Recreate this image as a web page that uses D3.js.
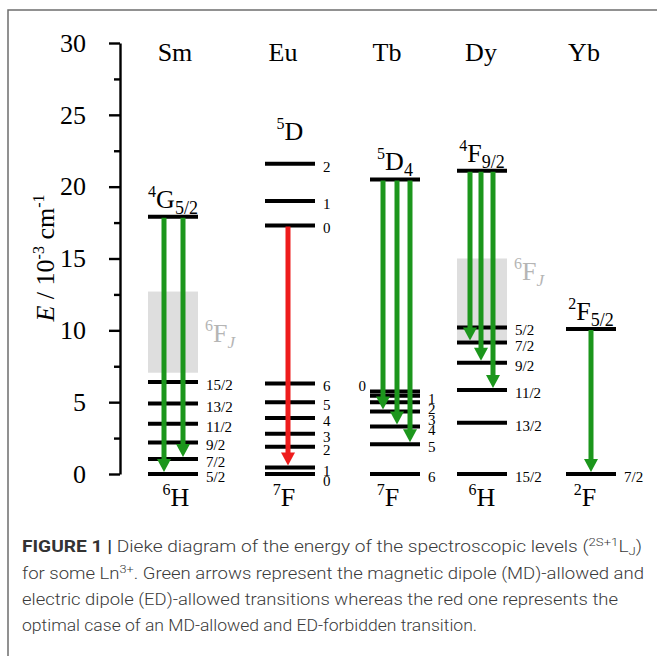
<!DOCTYPE html>
<html>
<head>
<meta charset="utf-8">
<script src="https://cdn.jsdelivr.net/npm/d3@7"></script>
<style>
  body { margin: 0; background: #fff; }
  svg { display: block; }
  .serif { font-family: "Liberation Serif", "Times New Roman", serif; fill: #000; }
  .caption { font-family: Roboto, "Liberation Sans", Arial, sans-serif; font-weight: 300; fill: #3a3a3a; }
</style>
</head>
<body>
<svg id="chart" width="657" height="656"></svg>
<script>
// ---- data (energies in 10^3 cm^-1) ----
const elements = ["Sm", "Eu", "Tb", "Dy", "Yb"];

const smLevels = [
  { J: "", E: 17.9 },
  { J: "15/2", E: 6.4 }, { J: "13/2", E: 4.9 }, { J: "11/2", E: 3.5 },
  { J: "9/2", E: 2.2 }, { J: "7/2", E: 1.05 }, { J: "5/2", E: 0 }
];
const euLevels = [
  { J: "2", E: 21.6 }, { J: "1", E: 19.0 }, { J: "0", E: 17.3 },
  { J: "6", E: 6.3 }, { J: "5", E: 5.0 }, { J: "4", E: 3.9 }, { J: "3", E: 2.8 },
  { J: "2", E: 1.9 }, { J: "1", E: 0.45 }, { J: "0", E: 0 }
];
const tbLevels = [
  { J: "", E: 20.5 },
  { J: "0", E: 5.75 }, { J: "1", E: 5.45 }, { J: "2", E: 5.0 }, { J: "3", E: 4.35 },
  { J: "4", E: 3.3 }, { J: "5", E: 2.07 }, { J: "6", E: 0 }
];
const dyLevels = [
  { J: "", E: 21.1 },
  { J: "5/2", E: 10.2 }, { J: "7/2", E: 9.15 }, { J: "9/2", E: 7.75 },
  { J: "11/2", E: 5.85 }, { J: "13/2", E: 3.57 }, { J: "15/2", E: 0 }
];
const ybLevels = [
  { J: "", E: 10.1 },
  { J: "7/2", E: 0 }
];

const upperTerms = [
  { el: "Sm", sup: "4", L: "G", sub: "5/2" },
  { el: "Eu", sup: "5", L: "D", sub: "" },
  { el: "Tb", sup: "5", L: "D", sub: "4" },
  { el: "Dy", sup: "4", L: "F", sub: "9/2" },
  { el: "Yb", sup: "2", L: "F", sub: "5/2" }
];
const groundTerms = [
  { el: "Sm", sup: "6", L: "H" }, { el: "Eu", sup: "7", L: "F" }, { el: "Tb", sup: "7", L: "F" },
  { el: "Dy", sup: "6", L: "H" }, { el: "Yb", sup: "2", L: "F" }
];

// 6F_J manifolds (grey bands)
const bands = [
  { el: "Sm", lo: 7.05, hi: 12.7 },
  { el: "Dy", lo: 9.3, hi: 15.0 }
];

// transitions: from -> to energies
const transitions = [
  { el: "Sm", from: 17.9, to: 0, kind: "allowed" },
  { el: "Sm", from: 17.9, to: 1.05, kind: "allowed" },
  { el: "Eu", from: 17.3, to: 0.45, kind: "forbidden" },
  { el: "Tb", from: 20.5, to: 4.35, kind: "allowed" },
  { el: "Tb", from: 20.5, to: 3.3, kind: "allowed" },
  { el: "Tb", from: 20.5, to: 2.07, kind: "allowed" },
  { el: "Dy", from: 21.1, to: 9.15, kind: "allowed" },
  { el: "Dy", from: 21.1, to: 7.75, kind: "allowed" },
  { el: "Dy", from: 21.1, to: 5.85, kind: "allowed" },
  { el: "Yb", from: 10.1, to: 0, kind: "allowed" }
];

const yTicks = [0, 5, 10, 15, 20, 25, 30];
const yMinorTicks = [2.5, 7.5, 12.5, 17.5, 22.5, 27.5];

const levelSets = { Sm: smLevels, Eu: euLevels, Tb: tbLevels, Dy: dyLevels, Yb: ybLevels };

// ---- layout ----
const svg = d3.select("#chart");
const y = d3.scaleLinear().domain([0, 30]).range([474, 43]);
const x = d3.scaleOrdinal().domain(elements).range([173, 290, 395, 482, 591]);
const headX = d3.scaleOrdinal().domain(elements).range([175, 283, 387, 481, 584]);
const halfW = 25;
const colors = { allowed: "#1c961c", forbidden: "#ee1c1c" };
const arrowDx = { Sm: [-9, 10], Eu: [-2], Tb: [-12, 2, 15], Dy: [-12, -1, 11], Yb: [0] };
const bandLabelE = { Sm: 9.2, Dy: 13.5 };
const leftLabels = { Tb: "0" };
const serifFont = '"Liberation Serif", "Times New Roman", serif';

// frame (only top & left edges visible)
svg.append("path").attr("d", "M8,656V10H657").attr("fill", "none").attr("stroke", "#6e6e6e").attr("stroke-width", 1.5);

// y axis
const axisX = 120;
const gAxis = svg.append("g").attr("transform", `translate(${axisX},0)`);
gAxis.call(d3.axisLeft(y).tickValues(yTicks).tickSize(11).tickSizeOuter(0).tickPadding(23))
  .call(g => g.attr("font-family", serifFont))
  .call(g => g.select(".domain").attr("stroke-width", 2.4))
  .call(g => g.selectAll(".tick line").attr("stroke-width", 2.4))
  .call(g => g.selectAll(".tick text").style("font-family", serifFont).style("font-size", "26px").attr("fill", "#000"));
gAxis.append("g").call(d3.axisLeft(y).tickValues(yMinorTicks).tickSize(6).tickFormat(""))
  .call(g => g.select(".domain").remove())
  .call(g => g.selectAll(".tick line").attr("stroke-width", 2.4));

// y title
const yTitle = svg.append("text").attr("class", "serif")
  .attr("transform", "translate(54,258) rotate(-90)")
  .attr("text-anchor", "middle").style("font-size", "26px");
yTitle.append("tspan").style("font-style", "italic").text("E");
yTitle.append("tspan").text(" / 10");
yTitle.append("tspan").attr("dy", -10).style("font-size", "16px").text("-3");
yTitle.append("tspan").attr("dy", 10).text(" cm");
yTitle.append("tspan").attr("dy", -10).style("font-size", "16px").text("-1");

// headers
svg.selectAll(".head").data(elements).enter().append("text")
  .attr("class", "serif head").attr("x", d => headX(d)).attr("y", 61)
  .attr("text-anchor", "middle").style("font-size", "26px").text(d => d);

// bands
svg.selectAll(".band").data(bands).enter().append("rect")
  .attr("x", d => x(d.el) - halfW).attr("width", 2 * halfW)
  .attr("y", d => y(d.hi)).attr("height", d => y(d.lo) - y(d.hi))
  .attr("fill", "#dedede");
bands.forEach(b => {
  const t = svg.append("text").attr("class", "serif")
    .attr("x", x(b.el) + halfW + 7).attr("y", y(bandLabelE[b.el]))
    .style("font-size", "26px").style("fill", "#b5b5b5");
  t.append("tspan").style("font-size", "16px").attr("dy", -11).text("6");
  t.append("tspan").attr("dy", 11).text("F");
  t.append("tspan").attr("dy", 6).style("font-size", "17px").style("font-style", "italic").text("J");
});

// levels + J labels
elements.forEach(el => {
  const lv = levelSets[el];
  const cx = x(el);
  svg.append("g").selectAll("line").data(lv).enter().append("line")
    .attr("x1", cx - halfW).attr("x2", cx + halfW)
    .attr("y1", d => y(d.E)).attr("y2", d => y(d.E))
    .attr("stroke", "#000").attr("stroke-width", 4);

  const isLeft = d => leftLabels[el] === d.J && d.E >= 1;
  // right-hand J labels, spread downwards so they don't collide
  const right = lv.filter(d => d.J !== "" && !isLeft(d)).slice().sort((a, b) => b.E - a.E);
  let prev = -Infinity;
  right.forEach(d => {
    const ly = Math.max(y(d.E), prev + 10.5);
    prev = ly;
    svg.append("text").attr("class", "serif")
      .attr("x", cx + halfW + 8).attr("y", ly + 3)
      .attr("dominant-baseline", "central").style("font-size", "15px").text(d.J);
  });
  lv.filter(isLeft).forEach(d => {
    svg.append("text").attr("class", "serif")
      .attr("x", cx - halfW - 4).attr("y", y(d.E) - 5).attr("text-anchor", "end")
      .attr("dominant-baseline", "central").style("font-size", "15px").text(d.J);
  });
});

// term labels
function termLabel(xPos, yPos, sup, L, sub) {
  const t = svg.append("text").attr("class", "serif")
    .attr("x", xPos).attr("y", yPos).attr("text-anchor", "middle").style("font-size", "26px");
  t.append("tspan").attr("dy", -11).style("font-size", "16px").text(sup);
  t.append("tspan").attr("dy", 11).text(L);
  if (sub) t.append("tspan").attr("dy", 6).style("font-size", "18px").text(sub);
}
upperTerms.forEach(d => {
  const lv = levelSets[d.el];
  const top = d3.max(lv, l => l.E);
  const offset = lv.filter(l => l.E > 15).length > 1 ? 24 : 9;
  termLabel(x(d.el), y(top) - offset, d.sup, d.L, d.sub);
});
groundTerms.forEach(d => termLabel(headX(d.el) + 1, 506, d.sup, d.L, ""));

// arrows
const counters = {};
transitions.forEach(t => {
  const i = counters[t.el] = (counters[t.el] ?? -1) + 1;
  const ax = x(t.el) + arrowDx[t.el][i];
  const tip = y(t.to) - 2;
  const headLen = 13, headW = 7;
  const c = colors[t.kind];
  svg.append("line").attr("x1", ax).attr("x2", ax)
    .attr("y1", y(t.from) + 1).attr("y2", tip - headLen + 1)
    .attr("stroke", c).attr("stroke-width", 5);
  svg.append("path")
    .attr("d", `M${ax - headW},${tip - headLen}L${ax + headW},${tip - headLen}L${ax},${tip}Z`)
    .attr("fill", c);
});

// caption
const capLines = [
  { y: 552, len: 620 },
  { y: 579, len: 622 },
  { y: 605, len: 596 },
  { y: 631, len: 455 }
];
const cap = capLines.map(l => svg.append("text").attr("class", "caption")
  .attr("x", 22).attr("y", l.y).style("font-size", "16px")
  .attr("textLength", l.len).attr("lengthAdjust", "spacingAndGlyphs"));
cap[0].append("tspan").style("font-weight", "700").style("fill", "#333").text("FIGURE 1 |");
cap[0].append("tspan").text(" Dieke diagram of the energy of the spectroscopic levels (");
cap[0].append("tspan").attr("dy", -6).style("font-size", "11px").text("2S+1");
cap[0].append("tspan").attr("dy", 6).text("L");
cap[0].append("tspan").attr("dy", 3).style("font-size", "11px").text("J");
cap[0].append("tspan").attr("dy", -3).text(")");
cap[1].append("tspan").text("for some Ln");
cap[1].append("tspan").attr("dy", -6).style("font-size", "11px").text("3+");
cap[1].append("tspan").attr("dy", 6).text(". Green arrows represent the magnetic dipole (MD)-allowed and");
cap[2].text("electric dipole (ED)-allowed transitions whereas the red one represents the");
cap[3].text("optimal case of an MD-allowed and ED-forbidden transition.");
</script>
</body>
</html>
